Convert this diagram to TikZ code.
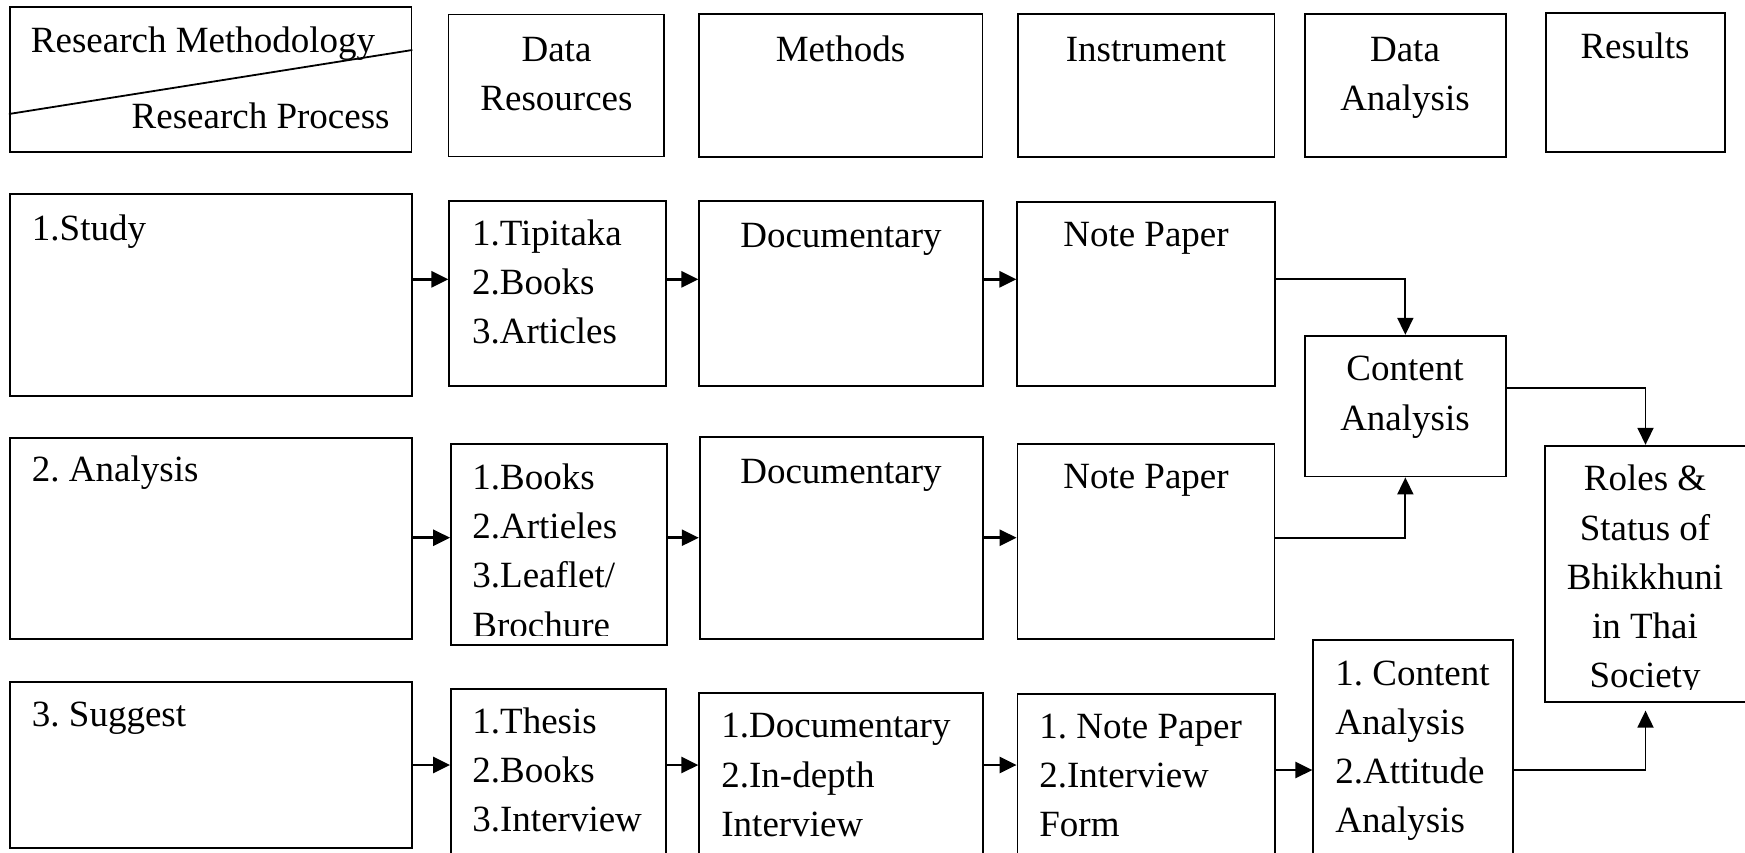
\documentclass[tikz,border=0pt]{standalone}
\usepackage{fontspec}
\setmainfont{Liberation Serif}
\usetikzlibrary{arrows.meta,fit}
\newcommand\tlines[5]{%
  \foreach \txtline [count=\i] in {#5} {%
    \node[txt, anchor=#2] (#1-\i) at ({#3}, {#4+49.3*\i-49.3}) {\txtline};}}
\newcommand\bx[5]{\node[box, fit={(#2,#3) (#4,#5)}] (#1) {};}
\begin{document}
\frenchspacing
\begin{tikzpicture}[x=0.5pt,y=-0.5pt,
  box/.style={draw, line width=0.9pt, inner sep=0pt},
  txt/.style={inner sep=0pt, font=\fontsize{18.5}{24.65}\selectfont\frenchspacing},
  arr/.style={line width=1.3pt, -{Triangle[length=8.5pt,width=8pt]}},
  conn/.style={line width=0.9pt, -{Triangle[length=8.5pt,width=8pt]}}]
\path[use as bounding box] (0,0) rectangle (1745,852);
\clip (0,0) rectangle (1745,852);

% header row
\bx{rm}{9.8}{6.7}{411.4}{151.7}
\bx{dres}{448.5}{14.5}{664.3}{156.5}
\bx{meth}{698.6}{14}{982.5}{157.3}
\bx{inst}{1017.8}{14}{1274.5}{157.3}
\bx{dana}{1305}{14}{1505.8}{157.3}
\bx{res}{1545.9}{12.7}{1724.9}{151.7}
\coordinate (d1) at (0,114);
\coordinate (d2) at (0,50);
\draw[line width=0.9pt] (rm.west |- d1) -- (rm.east |- d2);

% row 1
\bx{study}{9.8}{194.3}{411.6}{396}
\bx{tip}{449.3}{200.7}{665.7}{386}
\bx{doc1}{699.3}{200.7}{982.7}{386}
\bx{np1}{1017.3}{202.3}{1275}{385.7}
\bx{ca}{1305}{335.7}{1505.7}{476.5}

% row 2
\bx{ana}{9.8}{437.7}{411.6}{639}
\bx{bks}{451}{444}{666.7}{645}
\bx{doc2}{699.7}{437.3}{982.7}{639}
\bx{np2}{1017.5}{444}{1274.5}{639}
\bx{roles}{1545}{445.7}{1746}{701.7}

% row 3
\bx{sug}{9.8}{682.3}{411.6}{848.3}
\bx{ths}{451}{689}{666}{870}
\bx{doc3}{699.3}{692.7}{982.7}{870}
\bx{np3}{1017.5}{694}{1275}{870}
\bx{ca3}{1313.3}{640}{1513.3}{870}

% texts
\tlines{trm}{base west}{30.6}{52}{Research Methodology}
\tlines{trp}{base east}{390}{128.3}{Research Process}
\tlines{tdres}{base}{556.5}{61}{Data,Resources}
\tlines{tmeth}{base}{840.5}{61}{Methods}
\tlines{tinst}{base}{1146}{61}{Instrument}
\tlines{tdana}{base}{1405}{61}{Data,Analysis}
\tlines{tres}{base}{1635}{58}{Results}

\tlines{tstudy}{base west}{31.6}{240}{1.Study}
\tlines{ttip}{base west}{471.7}{245}{1.Tipitaka,2.Books,3.Articles}
\tlines{tdoc1}{base}{841}{247.3}{Documentary}
\tlines{tnp1}{base}{1146}{246.7}{Note Paper}
\tlines{tca}{base}{1405}{380.7}{Content,Analysis}

\tlines{tana}{base west}{31.6}{481.7}{2. Analysis}
\begin{scope}
  \clip (451,444) rectangle (666.7,635.7);
  \tlines{tbks}{base west}{472}{489.3}{1.Books,2.Artieles,3.Leaflet/,Brochure}
\end{scope}
\tlines{tdoc2}{base}{841}{483.3}{Documentary}
\tlines{tnp2}{base}{1146}{488.3}{Note Paper}
\begin{scope}
  \clip (1545,445.7) rectangle (1746,689.8);
  \tlines{troles}{base}{1645}{490.7}{Roles \&,Status of,Bhikkhuni,in Thai,Society}
\end{scope}

\tlines{tsug}{base west}{31.6}{726.7}{3. Suggest}
\tlines{tths}{base west}{472}{733.3}{1.Thesis,2.Books,3.Interview}
\tlines{tdoc3}{base west}{721}{737.7}{1.Documentary,2.In-depth,Interview}
\tlines{tnp3}{base west}{1039}{738.3}{1. Note Paper,2.Interview,Form}
\tlines{tca3}{base west}{1335}{685}{1. Content,Analysis,2.Attitude,Analysis}

% connectors
\coordinate (r1) at (0,279.3);
\coordinate (r2) at (0,537.7);
\coordinate (r3) at (0,765);
\coordinate (r3b) at (0,770);
\coordinate (c1) at (0,388.3);

\draw[arr] (study.east |- r1) -- (tip.west |- r1);
\draw[arr] (tip.east |- r1) -- (doc1.west |- r1);
\draw[arr] (doc1.east |- r1) -- (np1.west |- r1);

\draw[arr] (ana.east |- r2) -- (bks.west |- r2);
\draw[arr] (bks.east |- r2) -- (doc2.west |- r2);
\draw[arr] (doc2.east |- r2) -- (np2.west |- r2);

\draw[arr] (sug.east |- r3) -- (ths.west |- r3);
\draw[arr] (ths.east |- r3) -- (doc3.west |- r3);
\draw[arr] (doc3.east |- r3) -- (np3.west |- r3);
\draw[arr] (np3.east |- r3b) -- (ca3.west |- r3b);

\draw[conn] (np1.east |- r1) -| (ca.north);
\draw[conn] (np2.east |- r2) -| (ca.south);
\draw[conn] (ca.east |- c1) -| (roles.north);
\draw[conn, shorten >=4pt] (ca3.east |- r3b) -| (roles.south);
\end{tikzpicture}
\end{document}
